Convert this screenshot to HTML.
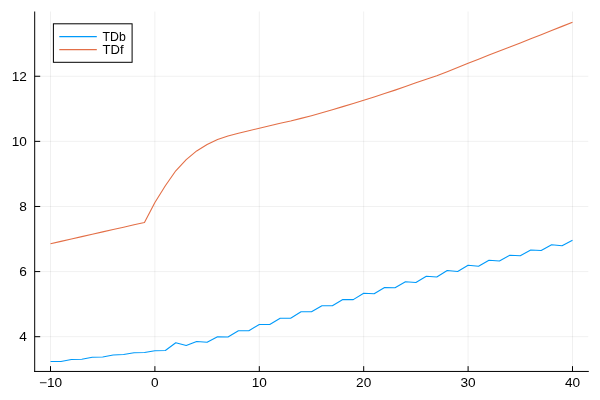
<!DOCTYPE html><html><head><meta charset="utf-8"><style>html,body{margin:0;padding:0;background:#fff}svg{display:block}text{font-family:"Liberation Sans",sans-serif;font-size:12.1px;fill:#000}svg{will-change:transform}</style></head><body>
<svg width="600" height="400" viewBox="0 0 600 400">
<rect width="600" height="400" fill="#fff"/>
<line x1="50.50" y1="11.5" x2="50.50" y2="371.45" stroke="#000" stroke-opacity="0.085" stroke-width="0.7"/>
<line x1="154.90" y1="11.5" x2="154.90" y2="371.45" stroke="#000" stroke-opacity="0.085" stroke-width="0.7"/>
<line x1="259.30" y1="11.5" x2="259.30" y2="371.45" stroke="#000" stroke-opacity="0.085" stroke-width="0.7"/>
<line x1="363.70" y1="11.5" x2="363.70" y2="371.45" stroke="#000" stroke-opacity="0.085" stroke-width="0.7"/>
<line x1="468.10" y1="11.5" x2="468.10" y2="371.45" stroke="#000" stroke-opacity="0.085" stroke-width="0.7"/>
<line x1="572.50" y1="11.5" x2="572.50" y2="371.45" stroke="#000" stroke-opacity="0.085" stroke-width="0.7"/>
<line x1="34.7" y1="336.7" x2="588.3" y2="336.7" stroke="#000" stroke-opacity="0.085" stroke-width="0.7"/>
<line x1="34.7" y1="271.58799999999997" x2="588.3" y2="271.58799999999997" stroke="#000" stroke-opacity="0.085" stroke-width="0.7"/>
<line x1="34.7" y1="206.476" x2="588.3" y2="206.476" stroke="#000" stroke-opacity="0.085" stroke-width="0.7"/>
<line x1="34.7" y1="141.364" x2="588.3" y2="141.364" stroke="#000" stroke-opacity="0.085" stroke-width="0.7"/>
<line x1="34.7" y1="76.25200000000001" x2="588.3" y2="76.25200000000001" stroke="#000" stroke-opacity="0.085" stroke-width="0.7"/>
<polyline points="50.50,361.45 60.94,361.45 71.38,359.45 81.82,359.20 92.26,357.20 102.70,356.95 113.14,354.95 123.58,354.45 134.02,352.70 144.46,352.45 154.90,350.70 165.34,350.45 175.78,342.70 186.22,345.45 196.66,341.45 207.10,342.20 217.54,336.70 227.98,336.95 238.42,330.70 248.86,330.70 259.30,324.45 269.74,324.45 280.18,318.20 290.62,318.20 301.06,311.70 311.50,311.70 321.94,305.70 332.38,305.70 342.82,299.45 353.26,299.60 363.70,293.30 374.14,293.70 384.58,287.45 395.02,287.80 405.46,281.70 415.90,282.45 426.34,276.20 436.78,276.95 447.22,270.45 457.66,271.45 468.10,265.20 478.54,266.20 488.98,260.30 499.42,260.95 509.86,255.20 520.30,255.70 530.74,249.95 541.18,250.45 551.62,244.70 562.06,245.70 572.50,240.20" fill="none" stroke="#009AFA" stroke-width="1.1" stroke-linejoin="round"/>
<polyline points="50.50,243.70 60.94,241.34 71.38,238.98 81.82,236.62 92.26,234.26 102.70,231.89 113.14,229.53 123.58,227.17 134.02,224.81 144.46,222.45 154.90,202.45 165.34,185.80 175.78,170.80 186.22,159.60 196.66,150.95 207.10,144.45 217.54,139.45 227.98,135.95 238.42,133.20 248.86,130.70 259.30,128.20 269.74,125.70 280.18,123.20 290.62,120.95 301.06,118.40 311.50,115.68 321.94,112.76 332.38,109.73 342.82,106.64 353.26,103.42 363.70,100.20 374.14,96.90 384.58,93.60 395.02,90.13 405.46,86.48 415.90,82.84 426.34,79.26 436.78,75.68 447.22,71.64 457.66,67.42 468.10,63.20 478.54,59.15 488.98,55.10 499.42,51.05 509.86,47.00 520.30,42.95 530.74,38.82 541.18,34.68 551.62,30.53 562.06,26.37 572.50,22.20" fill="none" stroke="#E36F47" stroke-width="1.1" stroke-linejoin="round"/>
<line x1="34.7" y1="11.5" x2="34.7" y2="371.95" stroke="#000" stroke-width="1"/>
<line x1="34.2" y1="371.45" x2="588.8" y2="371.45" stroke="#000" stroke-width="1"/>
<line x1="50.50" y1="371.45" x2="50.50" y2="366.15" stroke="#000" stroke-width="1"/>
<text transform="translate(50.50,387.4) scale(1.13,1)" text-anchor="middle">−10</text>
<line x1="154.90" y1="371.45" x2="154.90" y2="366.15" stroke="#000" stroke-width="1"/>
<text transform="translate(154.90,387.4) scale(1.13,1)" text-anchor="middle">0</text>
<line x1="259.30" y1="371.45" x2="259.30" y2="366.15" stroke="#000" stroke-width="1"/>
<text transform="translate(259.30,387.4) scale(1.13,1)" text-anchor="middle">10</text>
<line x1="363.70" y1="371.45" x2="363.70" y2="366.15" stroke="#000" stroke-width="1"/>
<text transform="translate(363.70,387.4) scale(1.13,1)" text-anchor="middle">20</text>
<line x1="468.10" y1="371.45" x2="468.10" y2="366.15" stroke="#000" stroke-width="1"/>
<text transform="translate(468.10,387.4) scale(1.13,1)" text-anchor="middle">30</text>
<line x1="572.50" y1="371.45" x2="572.50" y2="366.15" stroke="#000" stroke-width="1"/>
<text transform="translate(572.50,387.4) scale(1.13,1)" text-anchor="middle">40</text>
<line x1="34.7" y1="336.7" x2="40.2" y2="336.7" stroke="#000" stroke-width="1"/>
<text transform="translate(26.9,341.20) scale(1.13,1)" text-anchor="end">4</text>
<line x1="34.7" y1="271.58799999999997" x2="40.2" y2="271.58799999999997" stroke="#000" stroke-width="1"/>
<text transform="translate(26.9,276.09) scale(1.13,1)" text-anchor="end">6</text>
<line x1="34.7" y1="206.476" x2="40.2" y2="206.476" stroke="#000" stroke-width="1"/>
<text transform="translate(26.9,210.98) scale(1.13,1)" text-anchor="end">8</text>
<line x1="34.7" y1="141.364" x2="40.2" y2="141.364" stroke="#000" stroke-width="1"/>
<text transform="translate(26.9,145.86) scale(1.13,1)" text-anchor="end">10</text>
<line x1="34.7" y1="76.25200000000001" x2="40.2" y2="76.25200000000001" stroke="#000" stroke-width="1"/>
<text transform="translate(26.9,80.75) scale(1.13,1)" text-anchor="end">12</text>
<rect x="53.4" y="23.8" width="78.7" height="38.5" fill="#fff" stroke="#000" stroke-width="1"/>
<line x1="59.3" y1="36.6" x2="96.8" y2="36.6" stroke="#009AFA" stroke-width="1.05"/>
<line x1="59.3" y1="49.6" x2="96.8" y2="49.6" stroke="#E36F47" stroke-width="1.05"/>
<text transform="translate(102.5,40.7) scale(1.02,1)">TDb</text>
<text transform="translate(102.5,53.7) scale(1.08,1)">TDf</text>
</svg></body></html>
